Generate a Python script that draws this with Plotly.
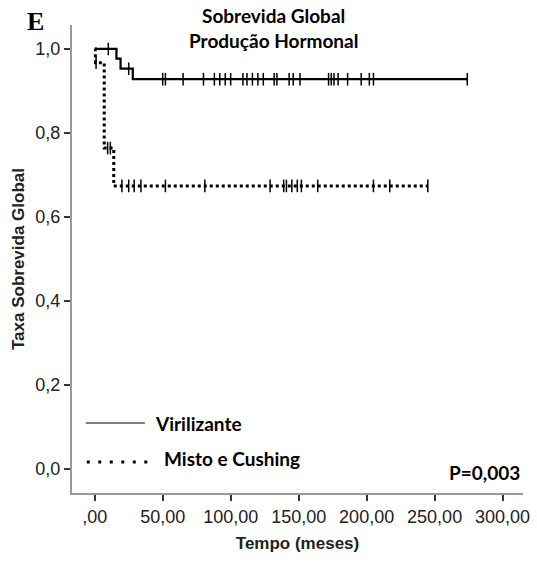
import plotly.graph_objects as go

# Virilizante: event times and survival after each event
vir_event_t = [0, 16, 19, 28]
vir_event_s = [1.0, 0.977, 0.953, 0.928]
vir_end_t = 274
vir_censor_t = [10, 25, 50, 52, 65, 80, 88, 92, 96, 100, 109, 112, 116, 120, 124,
                132, 134, 143, 146, 151, 172, 174, 176, 179, 186, 196, 202, 205, 274]

# Misto e Cushing
mix_event_t = [0, 0.5, 7, 14]
mix_event_s = [1.0, 0.967, 0.764, 0.674]
mix_end_t = 245
mix_censor_t = [1, 9.5, 11.5, 20, 25, 29, 34, 52, 81, 129, 139, 141, 145, 149, 152,
                164, 205, 217, 245]

x_ticks = [0, 50, 100, 150, 200, 250, 300]
x_ticklabels = [",00", "50,00", "100,00", "150,00", "200,00", "250,00", "300,00"]
y_ticks = [0, 0.2, 0.4, 0.6, 0.8, 1.0]
y_ticklabels = ["0,0", "0,2", "0,4", "0,6", "0,8", "1,0"]


def step_xy(ts, ss, t_end):
    xs = list(ts) + [t_end]
    ys = list(ss) + [ss[-1]]
    return xs, ys


def surv_at(ts, ss, t):
    s = ss[0]
    for ti, si in zip(ts, ss):
        if ti <= t:
            s = si
    return s


censor_marker = dict(symbol="line-ns-open", size=9, color="black",
                     line=dict(color="black", width=1.5))

fig = go.Figure()

vx, vy = step_xy(vir_event_t, vir_event_s, vir_end_t)
fig.add_trace(go.Scatter(x=vx, y=vy, mode="lines", line=dict(color="black", width=2.2, shape="hv"),
                         showlegend=False, hoverinfo="skip"))
fig.add_trace(go.Scatter(x=vir_censor_t, y=[surv_at(vir_event_t, vir_event_s, t) for t in vir_censor_t],
                         mode="markers", marker=censor_marker,
                         showlegend=False, hoverinfo="skip"))

mx, my = step_xy(mix_event_t, mix_event_s, mix_end_t)
fig.add_trace(go.Scatter(x=mx, y=my, mode="lines", line=dict(color="black", width=3, dash="dot", shape="hv"),
                         showlegend=False, hoverinfo="skip"))
fig.add_trace(go.Scatter(x=mix_censor_t, y=[surv_at(mix_event_t, mix_event_s, t) for t in mix_censor_t],
                         mode="markers", marker=censor_marker,
                         showlegend=False, hoverinfo="skip"))

axis_font = dict(family="Liberation Sans, Arial", size=18, color="#222")
axis_title_font = dict(family="Liberation Sans, Arial", size=17, color="#222")
title_font = dict(family="Lato, Open Sans", size=19, color="black")

fig.update_layout(
    width=537, height=563,
    margin=dict(l=72, r=7, t=25, b=70),
    plot_bgcolor="white", paper_bgcolor="white",
    xaxis=dict(range=[-16.7, 315], tickvals=x_ticks, ticktext=x_ticklabels,
               showgrid=False, zeroline=False, showline=True, linecolor="#999", linewidth=2,
               ticks="outside", ticklen=6, tickcolor="#333", tickwidth=1.5,
               tickfont=axis_font,
               title=dict(text="<b>Tempo (meses)</b>", font=axis_title_font, standoff=12)),
    yaxis=dict(range=[-0.057, 1.057], tickvals=y_ticks, ticktext=y_ticklabels,
               showgrid=False, zeroline=False, showline=True, linecolor="#999", linewidth=2,
               ticks="outside", ticklen=6, tickcolor="#333", tickwidth=1.5,
               tickfont=axis_font,
               title=dict(text="<b>Taxa Sobrevida Global</b>", font=axis_title_font, standoff=6)),
)

annotations = [
    dict(text="<b>Sobrevida Global</b>", x=277, y=15, showarrow=False,
         font=title_font, xanchor="center", yanchor="middle"),
    dict(text="<b>Produção Hormonal</b>", x=277, y=41, showarrow=False,
         font=title_font, xanchor="center", yanchor="middle"),
    dict(text="<b>E</b>", x=35, y=21, showarrow=False,
         font=dict(family="Liberation Serif, Times New Roman", size=26, color="black"),
         xanchor="center", yanchor="middle"),
    dict(text="<b>Virilizante</b>", x=154, y=423, showarrow=False,
         font=title_font, xanchor="left", yanchor="middle"),
    dict(text="<b>Misto e Cushing</b>", x=163, y=458, showarrow=False,
         font=title_font, xanchor="left", yanchor="middle"),
    dict(text="<b>P=0,003</b>", x=529, y=472, showarrow=False,
         font=title_font, xanchor="right", yanchor="middle"),
]
# convert pixel positions to paper coordinates
W, H = 537, 563
l, r, t, b = 72, 7, 25, 70
pw, ph = W - l - r, H - t - b
for a in annotations:
    a["x"] = (a["x"] - l) / pw
    a["y"] = 1 - (a["y"] - t) / ph
    a["xref"] = "paper"
    a["yref"] = "paper"
fig.update_layout(annotations=annotations)

shapes = [
    dict(type="line", x0=86, x1=146, y0=423, y1=423, line=dict(color="black", width=1.2)),
    dict(type="line", x0=87, x1=157, y0=462, y1=462, line=dict(color="black", width=3, dash="3px,8.5px")),
]
for s in shapes:
    s["x0"] = (s["x0"] - l) / pw
    s["x1"] = (s["x1"] - l) / pw
    s["y0"] = 1 - (s["y0"] - t) / ph
    s["y1"] = 1 - (s["y1"] - t) / ph
    s["xref"] = "paper"
    s["yref"] = "paper"
fig.update_layout(shapes=shapes)

fig.write_html("out.html")
